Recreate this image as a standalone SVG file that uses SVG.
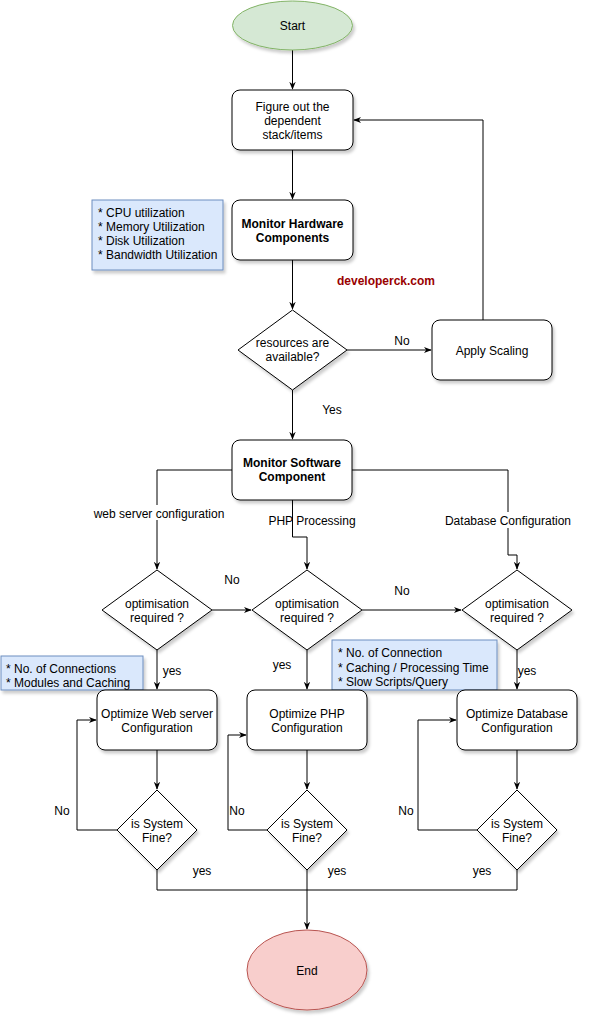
<svg xmlns="http://www.w3.org/2000/svg" width="589" height="1022" viewBox="0 0 589 1022">
<style>
text{font-family:"Liberation Sans",Arial,sans-serif;font-size:12px;fill:#000}
.c{text-anchor:middle}
.b{font-weight:bold}
.e{font-size:12px}
.n{fill:#fff;stroke:#000;stroke-width:1}
.note{fill:#dae8fc;stroke:#6c8ebf;stroke-width:1}
.ln{fill:none;stroke:#000;stroke-width:1}
</style>
<defs>
<marker id="a" viewBox="0 0 10 10" refX="9" refY="5" markerWidth="8" markerHeight="8" markerUnits="userSpaceOnUse" orient="auto"><path d="M0,1 L10,5 L0,9 L3,5 Z" fill="#000"/></marker>
<filter id="s" x="-10%" y="-10%" width="130%" height="140%"><feDropShadow dx="2" dy="3" stdDeviation="1.5" flood-color="#000" flood-opacity="0.2"/></filter>
</defs>
<rect width="589" height="1022" fill="#fff"/>
<g id="connectors">
<path class="ln" d="M292.5,50 V89" marker-end="url(#a)"/>
<path class="ln" d="M292.5,150 V199" marker-end="url(#a)"/>
<path class="ln" d="M292.5,260 V309" marker-end="url(#a)"/>
<path class="ln" d="M347,350 H431" marker-end="url(#a)"/>
<text class="e c" x="402" y="345">No</text>
<path class="ln" d="M483,320 V120 H354" marker-end="url(#a)"/>
<path class="ln" d="M292.5,390 V439" marker-end="url(#a)"/>
<text class="e c" x="332" y="414">Yes</text>
<path class="ln" d="M232,470 H157 V569" marker-end="url(#a)"/>
<rect x="93" y="505" width="133" height="15" fill="#fff"/>
<text class="e c" x="159" y="518">web server configuration</text>
<path class="ln" d="M292.5,500 V537 H307 V569" marker-end="url(#a)"/>
<text class="e c" x="312" y="525">PHP Processing</text>
<path class="ln" d="M352,470 H508 V555 H517 V569" marker-end="url(#a)"/>
<rect x="442" y="512" width="132" height="16" fill="#fff"/>
<text class="e c" x="508" y="525">Database Configuration</text>
<path class="ln" d="M212,610 H251" marker-end="url(#a)"/>
<text class="e c" x="232" y="584">No</text>
<path class="ln" d="M362,610 H461" marker-end="url(#a)"/>
<text class="e c" x="402" y="595">No</text>
<path class="ln" d="M157,650 V689" marker-end="url(#a)"/>
<text class="e c" x="172" y="675">yes</text>
<path class="ln" d="M307,650 V689" marker-end="url(#a)"/>
<text class="e c" x="282" y="669">yes</text>
<path class="ln" d="M517,650 V689" marker-end="url(#a)"/>
<text class="e c" x="527" y="675">yes</text>
<path class="ln" d="M157,750 V789" marker-end="url(#a)"/>
<path class="ln" d="M307,750 V789" marker-end="url(#a)"/>
<path class="ln" d="M517,750 V789" marker-end="url(#a)"/>
<path class="ln" d="M117,830 H77 V720 H96" marker-end="url(#a)"/>
<text class="e c" x="62" y="815">No</text>
<path class="ln" d="M267,830 H228 V735 H246" marker-end="url(#a)"/>
<text class="e c" x="237" y="815">No</text>
<path class="ln" d="M477,830 H418 V720 H456" marker-end="url(#a)"/>
<text class="e c" x="406" y="815">No</text>
<path class="ln" d="M157,870 V890 H517 V870"/>
<path class="ln" d="M307,870 V929" marker-end="url(#a)"/>
<text class="e c" x="202" y="875">yes</text>
<text class="e c" x="337" y="875">yes</text>
<text class="e c" x="482" y="875">yes</text>
</g>
<g id="start"><ellipse cx="292.5" cy="25.5" rx="60" ry="24.5" fill="#d5e8d4" stroke="#82b366" filter="url(#s)"/><text class="c" x="292.5" y="30">Start</text></g>
<g id="figure"><rect class="n" x="232" y="90" width="121" height="60" rx="8" filter="url(#s)"/><text class="c" x="292.5" y="111">Figure out the</text><text class="c" x="292.5" y="125">dependent</text><text class="c" x="292.5" y="139">stack/items</text></g>
<g id="hwnote"><rect class="note" x="92" y="200" width="131" height="70" filter="url(#s)"/><text x="98" y="217">* CPU utilization</text><text x="98" y="231">* Memory Utilization</text><text x="98" y="245">* Disk Utilization</text><text x="98" y="259">* Bandwidth Utilization</text></g>
<g id="hw"><rect class="n" x="232" y="200" width="121" height="60" rx="8" filter="url(#s)"/><text class="c b" x="292.5" y="228">Monitor Hardware</text><text class="c b" x="292.5" y="242">Components</text></g>
<g id="watermark"><text class="c b" x="386" y="285" style="fill:#990000;font-size:12px">developerck.com</text></g>
<g id="res"><polygon class="n" points="292.5,310 347,350 292.5,390 238,350" filter="url(#s)"/><text class="c" x="292.5" y="347">resources are</text><text class="c" x="292.5" y="361">available?</text></g>
<g id="scale"><rect class="n" x="432" y="320" width="120" height="60" rx="8" filter="url(#s)"/><text class="c" x="492" y="355">Apply Scaling</text></g>
<g id="sw"><rect class="n" x="232" y="440" width="120" height="60" rx="8" filter="url(#s)"/><text class="c b" x="292" y="467">Monitor Software</text><text class="c b" x="292" y="481">Component</text></g>
<g id="opt1"><polygon class="n" points="157,570 212,610 157,650 102,610" filter="url(#s)"/><text class="c" x="157" y="608">optimisation</text><text class="c" x="157" y="622">required ?</text></g>
<g id="opt2"><polygon class="n" points="307,570 362,610 307,650 252,610" filter="url(#s)"/><text class="c" x="307" y="608">optimisation</text><text class="c" x="307" y="622">required ?</text></g>
<g id="opt3"><polygon class="n" points="517,570 572,610 517,650 462,610" filter="url(#s)"/><text class="c" x="517" y="608">optimisation</text><text class="c" x="517" y="622">required ?</text></g>
<g id="webnote"><rect class="note" x="1" y="656" width="142" height="34" filter="url(#s)"/><text x="6" y="673">* No. of Connections</text><text x="6" y="687">* Modules and Caching</text></g>
<g id="phpnote"><rect class="note" x="332" y="640" width="165" height="50" filter="url(#s)"/><text x="338" y="657">* No. of Connection</text><text x="338" y="672">* Caching / Processing Time</text><text x="338" y="686">* Slow Scripts/Query</text></g>
<g id="web"><rect class="n" x="97" y="690" width="120" height="60" rx="8" filter="url(#s)"/><text class="c" x="157" y="718">Optimize Web server</text><text class="c" x="157" y="732">Configuration</text></g>
<g id="php"><rect class="n" x="247" y="690" width="120" height="60" rx="8" filter="url(#s)"/><text class="c" x="307" y="718">Optimize PHP</text><text class="c" x="307" y="732">Configuration</text></g>
<g id="db"><rect class="n" x="457" y="690" width="120" height="60" rx="8" filter="url(#s)"/><text class="c" x="517" y="718">Optimize Database</text><text class="c" x="517" y="732">Configuration</text></g>
<g id="fine1"><polygon class="n" points="157,790 197,830 157,870 117,830" filter="url(#s)"/><text class="c" x="157" y="828">is System</text><text class="c" x="157" y="842">Fine?</text></g>
<g id="fine2"><polygon class="n" points="307,790 347,830 307,870 267,830" filter="url(#s)"/><text class="c" x="307" y="828">is System</text><text class="c" x="307" y="842">Fine?</text></g>
<g id="fine3"><polygon class="n" points="517,790 557,830 517,870 477,830" filter="url(#s)"/><text class="c" x="517" y="828">is System</text><text class="c" x="517" y="842">Fine?</text></g>
<g id="end"><ellipse cx="307" cy="970" rx="60" ry="40" fill="#f8cecc" stroke="#b85450" filter="url(#s)"/><text class="c" x="307" y="975">End</text></g>
</svg>
